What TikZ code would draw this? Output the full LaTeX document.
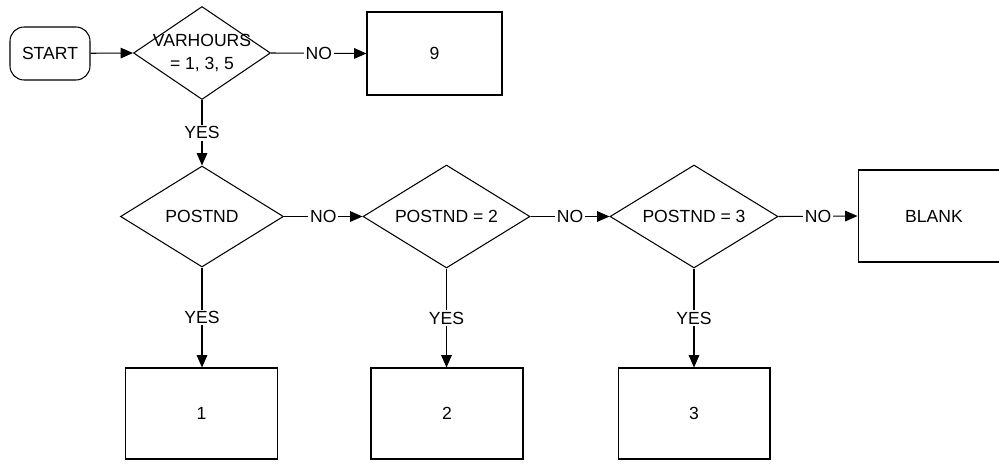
\documentclass[tikz,border=0pt]{standalone}
\usepackage{fontspec}
\setmainfont{Liberation Sans}
\usetikzlibrary{shapes, arrows.meta, positioning}

\begin{document}
\begin{tikzpicture}[x=0.02cm, y=-0.02cm,
  every node/.style={font=\fontsize{10}{12}\selectfont},
  dbox/.style={draw, diamond, aspect=1.6, inner sep=0pt, line width=0.6pt},
  abox/.style={draw, rectangle, line width=0.6pt, minimum width=3.04cm, minimum height=1.82cm},
  sbox/.style={draw, rectangle, rounded corners=8pt, line width=0.6pt, minimum width=1.6cm, minimum height=1.06cm},
  flow/.style={-{Triangle[length=7pt, width=6pt]}, line width=0.6pt},
  lbl/.style={fill=white, inner sep=1pt}
]
  \useasboundingbox (0,0) rectangle (999,463);
  \clip (0,0) rectangle (999,463);

  % top row
  \node[sbox] (start) at (50, 53.5) {START};
  \node[dbox, minimum width=2.74cm, minimum height=1.86cm] (hrs) at (202, 53) {};
  \node[align=center] (hrstxt) at (hrs.center) {VARHOURS\\[1pt]= 1, 3, 5};
  \node[abox, minimum width=2.7cm, minimum height=1.66cm] (nine) at (434.5, 53.5) {9};

  % middle row
  \node[dbox, minimum width=3.26cm, minimum height=2.02cm] (pnd) at (202, 216.5) {POSTND};
  \node[dbox, minimum width=3.34cm, minimum height=2.06cm] (pnd2) at (446.5, 216.5) {POSTND = 2};
  \node[dbox, minimum width=3.36cm, minimum height=2.06cm] (pnd3) at (694, 216.5) {POSTND = 3};
  \node[abox, minimum height=1.84cm] (blank) at (934, 216) {BLANK};

  % bottom row
  \node[abox] (one) at (201.5, 413.5) {1};
  \node[abox] (two) at (447, 413.5) {2};
  \node[abox] (three) at (694, 413.5) {3};

  \draw[flow] (start) -- (hrs.west);
  \draw[flow] (hrs.east) -- node[lbl] {NO} (nine.west);
  \draw[flow] (hrs.south) -- node[lbl] {YES} (pnd.north);
  \draw[flow] (pnd.east) -- node[lbl] {NO} (pnd2.west);
  \draw[flow] (pnd2.east) -- node[lbl] {NO} (pnd3.west);
  \draw[flow] (pnd3.east) -- node[lbl] {NO} (blank.west);
  \draw[flow] (pnd.south) -- node[lbl] {YES} (pnd.south |- one.north);
  \draw[flow] (pnd2.south) -- node[lbl] {YES} (pnd2.south |- two.north);
  \draw[flow] (pnd3.south) -- node[lbl] {YES} (pnd3.south |- three.north);
\end{tikzpicture}
\end{document}
